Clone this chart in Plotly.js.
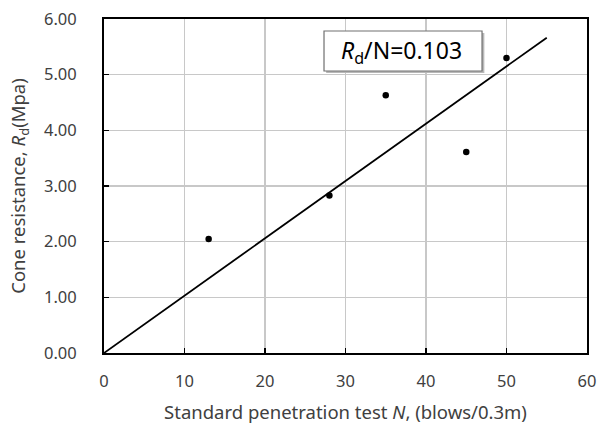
<!DOCTYPE html>
<html>
<head>
<meta charset="utf-8">
<script src="https://cdn.plot.ly/plotly-3.0.1.min.js"></script>
<style>html,body{margin:0;padding:0;background:#fff;}#chart{width:599px;height:424px;}</style>
</head>
<body>
<div id="chart"></div>
<script>
const sptN = [13, 28, 35, 45, 50];
const coneRd = [2.05, 2.83, 4.63, 3.61, 5.30];
const ratio = 0.103;
const fitN = [0, 55];
const fitRd = fitN.map(n => n * ratio);
const xTicks = [0, 10, 20, 30, 40, 50, 60];
const yTicks = [0, 1, 2, 3, 4, 5, 6];
const yTickLabels = ['0.00', '1.00', '2.00', '3.00', '4.00', '5.00', '6.00'];

const font = 'Noto Sans, sans-serif';

const traces = [
  {x: fitN, y: fitRd, mode: 'lines', line: {color: '#000', width: 1.8}, hoverinfo: 'skip', showlegend: false},
  {x: sptN, y: coneRd, mode: 'markers', marker: {color: '#000', size: 6.5}, showlegend: false}
];

const layout = {
  width: 599, height: 424,
  margin: {l: 104, r: 12, t: 19, b: 71},
  paper_bgcolor: '#fff', plot_bgcolor: '#fff',
  font: {family: font, color: '#404040', size: 16},
  showlegend: false,
  xaxis: {
    range: [0, 60], tickvals: xTicks, ticktext: xTicks.map(String),
    showgrid: true, gridcolor: '#c8c8c8', gridwidth: 1.5,
    zeroline: false, showline: true, linecolor: '#000', linewidth: 2, mirror: true,
    ticks: 'inside', ticklen: 5, tickcolor: '#000', tickwidth: 1.5,
    ticklabelstandoff: 12,
    tickfont: {size: 16.5, family: font, color: '#404040'},
    title: {text: 'Standard penetration test <i>N</i>, (blows/0.3m)', font: {size: 18.5, family: font, color: '#404040'}, standoff: 15}
  },
  yaxis: {
    range: [0, 6], tickvals: yTicks, ticktext: yTickLabels,
    showgrid: true, gridcolor: '#c8c8c8', gridwidth: 1.5,
    zeroline: false, showline: true, linecolor: '#000', linewidth: 2, mirror: true,
    ticks: 'inside', ticklen: 5, tickcolor: '#000', tickwidth: 1.5,
    ticklabelstandoff: 22,
    tickfont: {size: 16.5, family: font, color: '#404040'},
    title: {text: 'Cone resistance, <i>R</i><sub>d</sub>(Mpa)', font: {size: 18.5, family: font, color: '#404040'}, standoff: 13}
  },
  shapes: [
    {type: 'rect', xref: 'x', yref: 'y', x0: 27.6, x1: 47.25, y0: 5.03, y1: 5.75, fillcolor: '#b8b8b8', line: {width: 0}, layer: 'above'},
    {type: 'rect', xref: 'x', yref: 'y', x0: 27.33, x1: 46.96, y0: 5.066, y1: 5.784, fillcolor: '#ffffff', line: {color: '#707070', width: 1.2}, layer: 'above'}
  ],
  annotations: [
    {x: 37.0, y: 5.425, xref: 'x', yref: 'y', showarrow: false,
     text: '<i>R</i><sub>d</sub>/N=0.103', font: {size: 23, family: font, color: '#000'}}
  ]
};

Plotly.newPlot('chart', traces, layout, {displayModeBar: false, staticPlot: true});
</script>
</body>
</html>
